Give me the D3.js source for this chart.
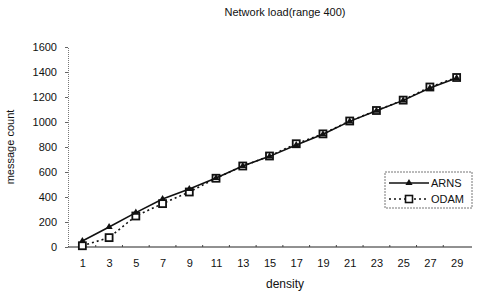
<!DOCTYPE html>
<html>
<head>
<meta charset="utf-8">
<script src="https://cdn.jsdelivr.net/npm/d3@7"></script>
<style>
  body { margin: 0; background: #fff; }
  text { font-family: "Liberation Sans", Arial, sans-serif; fill: #111; }
</style>
</head>
<body>
<svg id="chart" width="482" height="298"></svg>
<script>
// densities along the x axis
const density = [1, 3, 5, 7, 9, 11, 13, 15, 17, 19, 21, 23, 25, 27, 29];
const arns = [48, 160, 275, 384, 464, 552, 648, 725, 816, 902, 1005, 1090, 1173, 1272, 1352];
const odam = [10, 75, 248, 347, 440, 550, 648, 728, 826, 905, 1008, 1092, 1175, 1280, 1356];
const yTicks = [0, 200, 400, 600, 800, 1000, 1200, 1400, 1600];

const width = 482;
const height = 298;
const plotLeft = 69, plotRight = 470, plotTop = 47, plotBottom = 247;

const svg = d3.select("#chart");

const x = d3.scalePoint()
  .domain(density)
  .range([plotLeft, plotRight])
  .padding(0.5);

const y = d3.scaleLinear()
  .domain([0, 1600])
  .range([plotBottom, plotTop]);

// y axis: dotted scan-looking line
const yAxis = d3.axisLeft(y).tickValues(yTicks).tickFormat(d3.format("d")).tickSize(3).tickPadding(8);
const gy = svg.append("g")
  .attr("transform", `translate(${plotLeft - 1},0)`)
  .call(yAxis);
gy.select(".domain").attr("stroke", "#777").attr("stroke-dasharray", "1,1");
gy.selectAll(".tick line").attr("stroke", "#666");
gy.selectAll("text").style("font-size", "11px");

// x axis
const xAxis = d3.axisBottom(x).tickSize(0).tickPadding(12);
const gx = svg.append("g")
  .attr("transform", `translate(0,${plotBottom})`)
  .call(xAxis);
gx.select(".domain").attr("d", `M${plotLeft - 1},0H${plotRight + 2}`).attr("stroke", "#222");
gx.selectAll("text").style("font-size", "11px");

// small separators between categories
svg.append("g").selectAll("line")
  .data(density.slice(1))
  .join("line")
  .attr("x1", d => x(d) - x.step() / 2)
  .attr("x2", d => x(d) - x.step() / 2)
  .attr("y1", plotBottom)
  .attr("y2", plotBottom - 2)
  .attr("stroke", "#444");

// title and axis labels
svg.append("text")
  .attr("x", 285).attr("y", 16)
  .attr("text-anchor", "middle")
  .style("font-size", "11px")
  .text("Network load(range 400)");

svg.append("text")
  .attr("x", 285).attr("y", 288)
  .attr("text-anchor", "middle")
  .style("font-size", "12px")
  .text("density");

svg.append("text")
  .attr("transform", `translate(14,${(plotTop + plotBottom) / 2}) rotate(-90)`)
  .attr("text-anchor", "middle")
  .style("font-size", "11px")
  .text("message count");

const line = d3.line()
  .x((d, i) => x(density[i]))
  .y(d => y(d));

// ODAM: dotted with open squares
svg.append("path")
  .datum(odam)
  .attr("d", line)
  .attr("fill", "none")
  .attr("stroke", "#111")
  .attr("stroke-width", 1.6)
  .attr("stroke-dasharray", "2,3");

svg.append("g").selectAll("rect")
  .data(odam)
  .join("rect")
  .attr("x", (d, i) => x(density[i]) - 3.5)
  .attr("y", d => y(d) - 3.5)
  .attr("width", 7)
  .attr("height", 7)
  .attr("fill", "#fff")
  .attr("stroke", "#111")
  .attr("stroke-width", 1.8);

// ARNS: solid with triangles
svg.append("path")
  .datum(arns)
  .attr("d", line)
  .attr("fill", "none")
  .attr("stroke", "#111")
  .attr("stroke-width", 1.6);

const tri = d3.symbol().type(d3.symbolTriangle).size(22);
svg.append("g").selectAll("path")
  .data(arns)
  .join("path")
  .attr("d", tri)
  .attr("transform", (d, i) => `translate(${x(density[i])},${y(d)})`)
  .attr("fill", "#111");

// legend
const lg = svg.append("g").attr("transform", "translate(385,172)");
lg.append("rect")
  .attr("width", 87).attr("height", 36)
  .attr("fill", "#fff")
  .attr("stroke", "#777")
  .attr("stroke-dasharray", "2,1");

lg.append("line").attr("x1", 4).attr("x2", 44).attr("y1", 11).attr("y2", 11)
  .attr("stroke", "#111").attr("stroke-width", 1.6);
lg.append("path").attr("d", tri).attr("transform", "translate(24,11)").attr("fill", "#111");
lg.append("text").attr("x", 46).attr("y", 15).style("font-size", "11px").text("ARNS");

lg.append("line").attr("x1", 4).attr("x2", 44).attr("y1", 27).attr("y2", 27)
  .attr("stroke", "#111").attr("stroke-width", 1.4).attr("stroke-dasharray", "2,3");
lg.append("rect").attr("x", 20.5).attr("y", 23.5).attr("width", 7).attr("height", 7)
  .attr("fill", "#fff").attr("stroke", "#111").attr("stroke-width", 1.6);
lg.append("text").attr("x", 46).attr("y", 31).style("font-size", "11px").text("ODAM");
</script>
</body>
</html>
